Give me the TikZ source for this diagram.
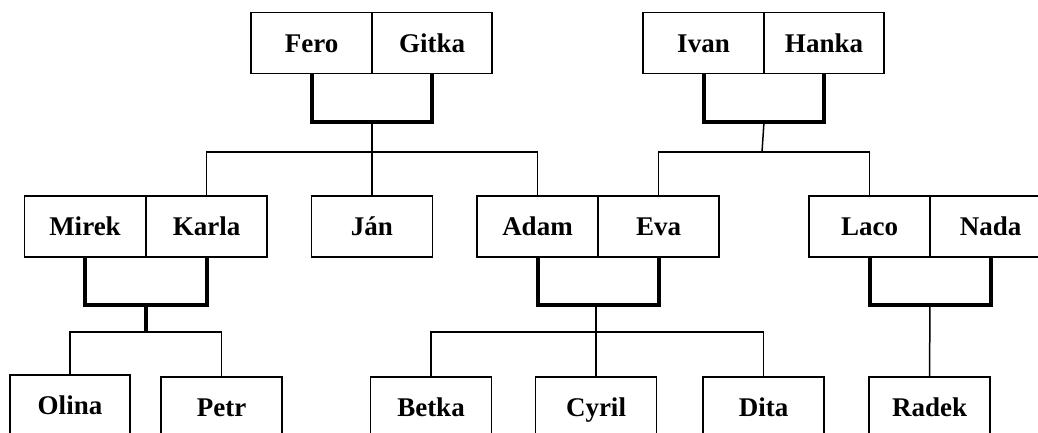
\documentclass[tikz,border=0pt]{standalone}
\usepackage{fontspec}
\setmainfont{Liberation Serif}
\begin{document}
\begin{tikzpicture}[x=1pt,y=-1pt,
  person/.style={draw,line width=1.5pt,minimum height=61pt,inner sep=0pt,
    text height=18pt,text depth=0pt,
    font=\fontsize{27}{32}\selectfont\bfseries},
  w121/.style={person,minimum width=121pt},
  w120/.style={person,minimum width=120pt},
  marriage/.style={line width=4pt},
  kin/.style={line width=1.5pt}]
\useasboundingbox (0,0) rectangle (1038,432);
\clip (0,0) rectangle (1038,432);
% generation 1
\node[w121] (fero)  at (311.5,43) {Fero};
\node[w120] (gitka) at (432,43)   {Gitka};
\node[w121] (ivan)  at (703.5,43) {Ivan};
\node[w120] (hanka) at (824,43)   {Hanka};
% generation 2
\node[w121] (mirek) at (85,226.5)    {Mirek};
\node[w121] (karla) at (206.5,226.5) {Karla};
\node[w121] (jan)   at (372,226.5)   {Ján};
\node[w121] (adam)  at (537.5,226.5) {Adam};
\node[w121] (eva)   at (658.5,226.5) {Eva};
\node[w121] (laco)  at (869.5,226.5) {Laco};
\node[w121] (nada)  at (990.5,226.5) {Nada};
% generation 3
\node[w120] (olina) at (70,405.5)    {Olina};
\node[w121] (petr)  at (221.5,407.5) {Petr};
\node[w121] (betka) at (431,407.5)   {Betka};
\node[w121] (cyril) at (596,407.5)   {Cyril};
\node[w121] (dita)  at (763.5,407.5) {Dita};
\node[w121] (radek) at (929.5,407.5) {Radek};
% Fero + Gitka
\coordinate (fg) at (372,122);
\coordinate (fgbar) at (372,152);
\draw[marriage] (fero.south) |- (fg) -| (gitka.south);
\draw[kin] (fg) -- (jan.north);
\draw[kin] (karla.north) |- (fgbar) -| (adam.north);
% Ivan + Hanka
\coordinate (ih) at (764,122);
\coordinate (ihbar) at (762,152);
\draw[marriage] (ivan.south) |- (ih) -| (hanka.south);
\draw[kin] (ih) -- (ihbar);
\draw[kin] (eva.north) |- (ihbar) -| (laco.north);
% Mirek + Karla
\coordinate (mk) at (146,305);
\coordinate (mkbar) at (146,332);
\draw[marriage] (mirek.south) |- (mk) -| (karla.south);
\draw[marriage] (mk) -- (mkbar);
\draw[kin] (olina.north) |- (mkbar) -| (petr.north);
% Adam + Eva
\coordinate (ae) at (596,305);
\coordinate (aebar) at (596,332);
\draw[marriage] (adam.south) |- (ae) -| (eva.south);
\draw[kin] (ae) -- (cyril.north);
\draw[kin] (betka.north) |- (aebar) -| (dita.north);
% Laco + Nada
\coordinate (ln) at (930,305);
\draw[marriage] (laco.south) |- (ln) -| (nada.south);
\draw[kin] (ln) -- (radek.north);
\end{tikzpicture}
\end{document}
